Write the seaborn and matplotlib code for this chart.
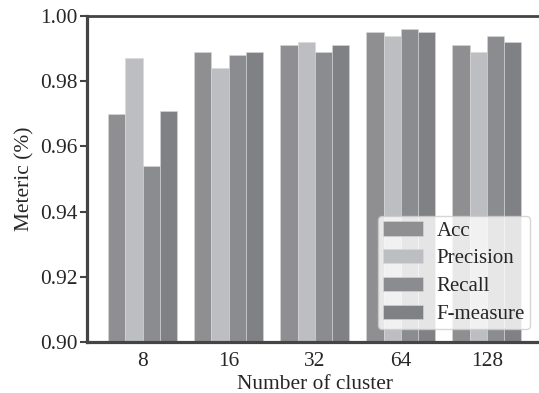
import numpy as np
import pandas as pd
import seaborn as sns
import matplotlib.pyplot as plt

clusters = ["8", "16", "32", "64", "128"]
metrics = ["Acc", "Precision", "Recall", "F-measure"]
acc = [0.970, 0.989, 0.991, 0.995, 0.991]
precision = [0.987, 0.984, 0.992, 0.994, 0.989]
recall = [0.954, 0.988, 0.989, 0.996, 0.994]
fmeasure = [0.971, 0.989, 0.991, 0.995, 0.992]

palette = ["#8f8f92", "#bdbec1", "#8b8c90", "#808184"]

df = pd.DataFrame({"cluster": clusters * 4,
                   "metric": np.repeat(metrics, len(clusters)),
                   "value": acc + precision + recall + fmeasure})

sns.set_theme(style="ticks")
plt.rcParams["font.family"] = ["Liberation Serif", "DejaVu Serif"]

fig = plt.figure(figsize=(5.39, 3.93), dpi=100)
ax = fig.add_axes([0.1614, 0.1298, 0.845, 0.8295])

sns.barplot(data=df, x="cluster", y="value", hue="metric", order=clusters,
            hue_order=metrics, palette=palette, width=0.8, saturation=1,
            edgecolor="#d8d8d8", linewidth=0.4, ax=ax)

ax.set_ylim(0.90, 1.00)
ax.set_xlim(-0.645, 4.645)
ax.set_yticks([0.90, 0.92, 0.94, 0.96, 0.98, 1.00])
ax.set_yticklabels(["0.90", "0.92", "0.94", "0.96", "0.98", "1.00"])
ax.tick_params(axis="y", labelsize=15.4, length=5, width=1.5, pad=2, color="#444444")
ax.tick_params(axis="x", labelsize=15.4, length=0, pad=7)
ax.set_xlabel("Number of cluster", fontsize=15.4, labelpad=3)
ax.set_ylabel("Meteric (%)", fontsize=15.4, labelpad=4)

for side in ["left", "bottom"]:
    ax.spines[side].set_linewidth(2.3)
    ax.spines[side].set_color("#444444")
ax.spines["top"].set_linewidth(2)
ax.spines["top"].set_color("#444444")
ax.spines["right"].set_visible(False)

ax.legend(loc="lower right", fontsize=15, title=None, frameon=True,
          handlelength=1.9, handletextpad=0.65, labelspacing=0.4,
          borderpad=0.25, borderaxespad=0.6)

fig.savefig("out.png", dpi=100)
